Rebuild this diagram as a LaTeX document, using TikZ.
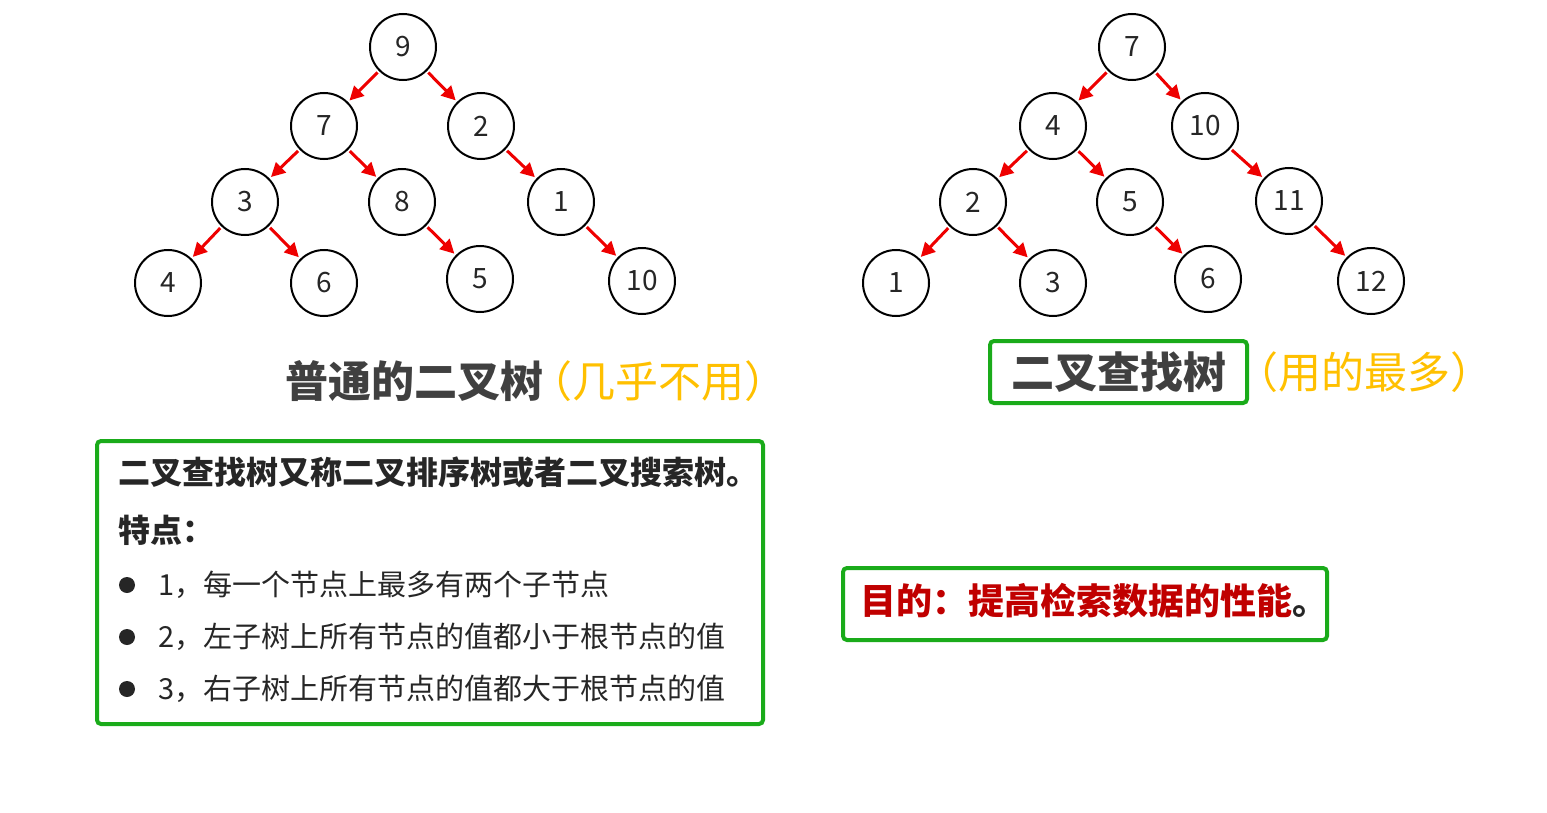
\documentclass[tikz,border=0pt]{standalone}
\usepackage{fontspec}
\usepackage{xcolor}
\usetikzlibrary{arrows.meta,positioning}
\setmainfont{Noto Sans CJK SC}
\definecolor{edgered}{HTML}{EE0000}
\definecolor{boxgreen}{HTML}{1AAB1A}
\definecolor{titlegray}{HTML}{404040}
\definecolor{notegold}{HTML}{FFC000}
\definecolor{aimred}{HTML}{C00000}
\definecolor{textgray}{HTML}{262626}

\begin{document}
\begin{tikzpicture}[x=0.5pt, y=-0.5pt,
  treenode/.style={circle, draw=black, line width=1pt, minimum size=33pt,
    inner sep=0pt, text=textgray, font=\fontsize{14pt}{14pt}\selectfont},
  treeedge/.style={draw=edgered, line width=1.5pt,
    -{Triangle[length=7pt,width=7pt]}, shorten <=1pt, shorten >=1pt},
  greenbox/.style={draw=boxgreen, line width=2pt, rounded corners=2pt, inner sep=0pt},
  plaintext/.style={inner sep=0pt, text=textgray},
  bulletdot/.style={circle, fill=textgray, minimum size=8pt, inner sep=0pt}]
\useasboundingbox (0,0) rectangle (1547,813);

\node[treenode] (a9) at (403,47) {9};
\node[treenode] (a7) at (324,126) {7};
\node[treenode] (a2) at (481,126) {2};
\node[treenode] (a3) at (245,202) {3};
\node[treenode] (a8) at (402,202) {8};
\node[treenode] (a1) at (561,202) {1};
\node[treenode] (a4) at (168,283) {4};
\node[treenode] (a6) at (324,283) {6};
\node[treenode] (a5) at (480,279) {5};
\node[treenode] (a10) at (642,281) {10};

\node[treenode] (b7) at (1132,47) {7};
\node[treenode] (b4) at (1053,126) {4};
\node[treenode] (b10) at (1205,126) {10};
\node[treenode] (b2) at (973,202) {2};
\node[treenode] (b5) at (1130,202) {5};
\node[treenode] (b11) at (1289,201) {11};
\node[treenode] (b1) at (896,283) {1};
\node[treenode] (b3) at (1053,283) {3};
\node[treenode] (b6) at (1208,279) {6};
\node[treenode] (b12) at (1371,281) {12};

\foreach \from/\to in {a9/a7, a9/a2, a7/a3, a7/a8, a2/a1, a3/a4, a3/a6, a8/a5, a1/a10,
    b7/b4, b7/b10, b4/b2, b4/b5, b10/b11, b2/b1, b2/b3, b5/b6, b11/b12}
  \draw[treeedge] (\from) -- (\to);

\node[plaintext, anchor=west, text=titlegray,
      font=\fontsize{21.5pt}{21.5pt}\selectfont\bfseries] (plaintitle) at (285,381) {普通的二叉树};
\node[plaintext, right=-7.5pt of plaintitle, text=notegold,
      font=\fontsize{21.5pt}{21.5pt}\selectfont] (plainnote) {（几乎不用）};

\node[greenbox, minimum width=128.5pt, minimum height=31pt, text=titlegray,
      font=\fontsize{21.5pt}{21.5pt}\selectfont\bfseries] (bsttitle) at (1118.5,372) {二叉查找树};
\node[plaintext, right=-7pt of bsttitle, text=notegold,
      font=\fontsize{21.5pt}{21.5pt}\selectfont] (bstnote) {（用的最多）};

\node[greenbox, minimum width=333pt, minimum height=141.5pt] (infobox) at (430,582.5) {};
\node[plaintext, anchor=west, font=\fontsize{16pt}{16pt}\selectfont\bfseries]
  (infohead) at (118,472) {二叉查找树又称二叉排序树或者二叉搜索树。};
\node[plaintext, anchor=west, font=\fontsize{16pt}{16pt}\selectfont\bfseries]
  (infofeat) at (118,530) {特点：};
\node[bulletdot] (dot1) at (127,585) {};
\node[bulletdot] (dot2) at (127,637) {};
\node[bulletdot] (dot3) at (127,689) {};
\node[plaintext, anchor=west, font=\fontsize{14.5pt}{14.5pt}\selectfont]
  (item1) at (158,585) {1，每一个节点上最多有两个子节点};
\node[plaintext, anchor=west, font=\fontsize{14.5pt}{14.5pt}\selectfont]
  (item2) at (158,637) {2，左子树上所有节点的值都小于根节点的值};
\node[plaintext, anchor=west, font=\fontsize{14.5pt}{14.5pt}\selectfont]
  (item3) at (158,689) {3，右子树上所有节点的值都大于根节点的值};

\node[greenbox, minimum width=242pt, minimum height=36pt] (aimbox) at (1085,604) {};
\node[plaintext, text=aimred, font=\fontsize{18pt}{18pt}\selectfont\bfseries]
  (aimtext) at ([xshift=4.5pt,yshift=1.5pt]aimbox.center)
  {目的：提高检索数据的性能{\color{textgray}。}};
\end{tikzpicture}
\end{document}
